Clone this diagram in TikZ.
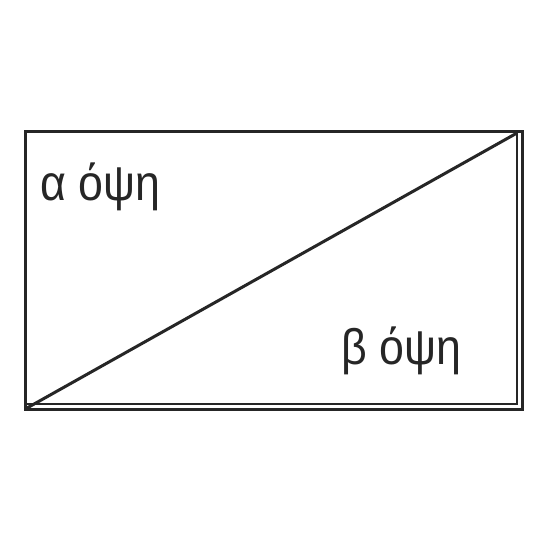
\documentclass[tikz,border=0pt]{standalone}
\usepackage{fontspec}
\setmainfont{Liberation Sans}
\begin{document}
\begin{tikzpicture}[x=1pt,y=-1pt,
  edge/.style={draw=black!85,line width=3pt},
  lbl/.style={inner sep=0pt,anchor=base west,font=\fontsize{50}{50}\selectfont,text=black!85,xscale=0.895}]
\useasboundingbox[fill=white] (0,0) rectangle (550,550);
\coordinate (tl) at (25,131);
\coordinate (tr) at (522,131);
\coordinate (br) at (522,409);
\coordinate (bl) at (25,409);
\coordinate (itr) at (517,131);
\coordinate (ibr) at (517,404);
\coordinate (ibl) at (25,404);
\draw[edge] (tl) -- (tr) -- (br) -- (bl) -- cycle;
\draw[edge,line width=2.4pt] (itr) -- (ibr) -- (ibl);
\draw[edge] (27,408) -- (517,133);
\node[lbl] (a) at (40,200) {α όψη};
\node[lbl] (b) at (341,364) {β όψη};
\end{tikzpicture}
\end{document}
